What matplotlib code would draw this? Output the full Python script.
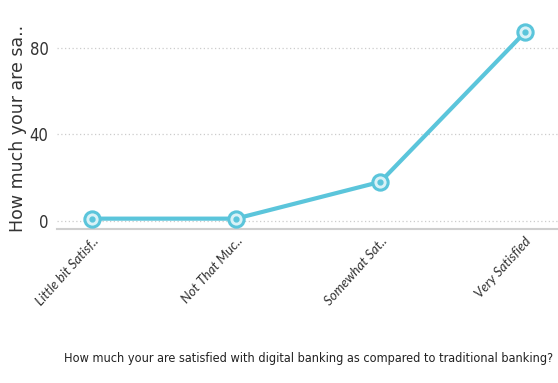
import matplotlib
matplotlib.use("Agg")
import matplotlib.pyplot as plt

# Satisfaction survey: count of responses per answer
categories = ["Little bit Satisf..", "Not That Muc..", "Somewhat Sat..", "Very Satisfied"]
counts = [1, 1, 18, 87]
yticks = [0, 40, 80]

LINE = "#5bc5db"

fig = plt.figure(figsize=(5.58, 3.83), dpi=100)
ax = fig.add_axes([0.102, 0.402, 0.898, 0.598])

xs = list(range(len(categories)))
ax.plot(xs, counts, "-", color=LINE, lw=3, zorder=3, solid_capstyle="round")
ax.plot(xs, counts, "o", ms=11, mfc="#d9f2f7", mec=LINE, mew=2.2, zorder=4)
ax.plot(xs, counts, "o", ms=3.5, color=LINE, zorder=5)

ax.set_xlim(-0.24, 3.23)
ax.set_ylim(-3.8, 102)

# dotted horizontal guides
for y in yticks:
    ax.axhline(y, color="#cccccc", lw=0.9, ls=(0, (1, 2)), zorder=1)

ax.set_yticks(yticks)
ax.set_yticklabels([str(t) for t in yticks], family="DejaVu Sans",
                   stretch="condensed", fontsize=12, color="#333333")
ax.set_xticks(xs)
ax.set_xticklabels(categories, rotation=48, ha="right", va="top",
                   rotation_mode="anchor", family="Lato", style="italic",
                   fontsize=9.6, color="#333333")
ax.tick_params(axis="both", length=0, pad=6)
ax.tick_params(axis="x", pad=4)

for s in ["top", "right", "left"]:
    ax.spines[s].set_visible(False)
ax.spines["bottom"].set_color("#cfcfcf")
ax.spines["bottom"].set_linewidth(1.5)

fig.text(0.032, 0.665, "How much your are sa..", rotation=90, ha="center",
         va="center", fontsize=12.5, color="#333333", family="DejaVu Sans")
fig.text(0.553, 0.065, "How much your are satisfied with digital banking as compared to traditional banking?",
         ha="center", va="center", fontsize=9.1, color="#222222",
         family="DejaVu Sans", stretch="condensed")

fig.savefig("out.png", dpi=100)
